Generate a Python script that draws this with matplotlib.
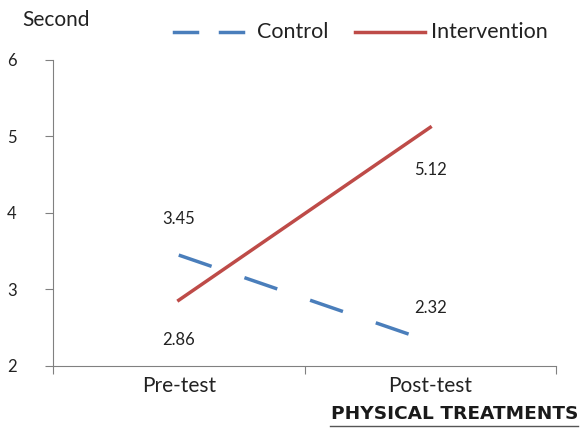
import matplotlib.pyplot as plt
from matplotlib.lines import Line2D

plt.rcParams["font.family"] = ["Lato", "DejaVu Sans"]

phases = ["Pre-test", "Post-test"]
control = [3.45, 2.32]
intervention = [2.86, 5.12]
y_ticks = [2, 3, 4, 5, 6]

blue = "#4a7ebb"
red = "#be4b48"
text_color = "#222222"

W, H = 584, 429
fig = plt.figure(figsize=(W / 100, H / 100), dpi=100)
ax = fig.add_axes([53 / W, 1 - 366 / H, (556 - 53) / W, (366 - 60) / H])

x = [0, 1]
ax.plot(x, control, color=blue, lw=2.5, linestyle=(0, (10, 10)))
ax.plot(x, intervention, color=red, lw=2.5)

# value labels, offset above / below the points as in the source
label_offsets = [
    (0, control[0], 0.47),
    (0, intervention[0], -0.52),
    (1, intervention[1], -0.56),
    (1, control[1], 0.44),
]
for xi, val, off in label_offsets:
    ax.text(xi, val + off, f"{val:.2f}", ha="center", va="center", fontsize=12, color=text_color)

ax.set_xlim(-0.5, 1.5)
ax.set_ylim(2, 6)
ax.set_yticks(y_ticks)
ax.set_yticklabels([str(t) for t in y_ticks], fontsize=12, color=text_color)
ax.set_xticks([-0.5, 0.5, 1.5])
ax.set_xticklabels([])
ax.set_xticks(x, minor=True)
ax.set_xticklabels(phases, minor=True, fontsize=15, color=text_color)
ax.tick_params(axis="x", which="minor", length=0, pad=7)
ax.tick_params(axis="x", which="major", length=6, color="#808080", direction="out")
ax.tick_params(axis="y", length=6, color="#808080", direction="out", pad=20)

for side in ["top", "right"]:
    ax.spines[side].set_visible(False)
ax.spines["left"].set_color("#808080")
ax.spines["bottom"].set_color("#808080")

fig.text(22 / W, 1 - 20 / H, "Second", fontsize=15, va="center", ha="left", color=text_color)

# legend drawn by hand to match the short dashes of the source
leg_y = 1 - 32 / H
fig.add_artist(Line2D([174 / W, 197 / W], [leg_y, leg_y], color=blue, lw=2.5))
fig.add_artist(Line2D([220 / W, 243 / W], [leg_y, leg_y], color=blue, lw=2.5))
fig.text(257 / W, leg_y, "Control", fontsize=15.5, va="center", ha="left", color=text_color)
fig.add_artist(Line2D([355 / W, 425 / W], [leg_y, leg_y], color=red, lw=2.5))
fig.text(431 / W, leg_y, "Intervention", fontsize=15.5, va="center", ha="left", color=text_color)

# watermark
fig.text(578 / W, 1 - 414 / H, "PHYSICAL TREATMENTS", fontsize=13.3, fontweight="bold",
         ha="right", va="center", color="#1a1a1a", family=["DejaVu Sans"])
fig.add_artist(Line2D([330 / W, 578 / W], [1 - 426 / H, 1 - 426 / H], color="#555555", lw=1))

fig.savefig("out.png", dpi=100)
